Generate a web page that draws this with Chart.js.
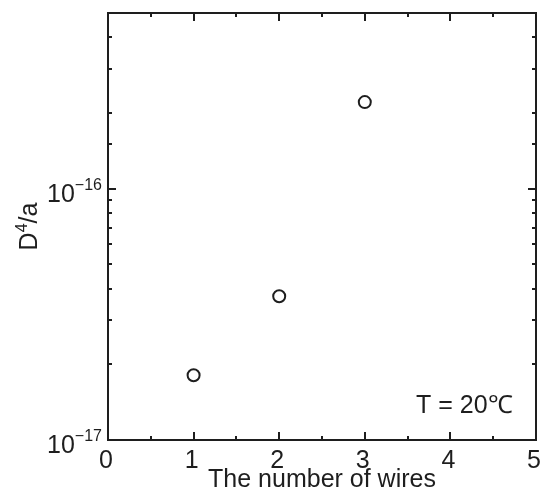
<!DOCTYPE html>
<html>
<head>
<meta charset="utf-8">
<script src="https://cdn.jsdelivr.net/npm/chart.js@4.4.1/dist/chart.umd.min.js"></script>
<style>
  html, body { margin: 0; padding: 0; background: #ffffff; }
  canvas { display: block; }
</style>
</head>
<body>
<canvas id="chart" width="544" height="497"></canvas>
<script>
// Measured D^4/a for bundles of 1, 2 and 3 wires
const wireCounts = [1, 2, 3];
const d4OverA = [1.81e-17, 3.73e-17, 2.21e-16];

// Axis ranges and labels
const xRange = [0, 5];
const yRange = [1e-17, 5e-16];
const xTickLabels = ['0', '1', '2', '3', '4', '5'];
const yTickValues = [1e-17, 1e-16];
const yTickExponents = ['\u221217', '\u221216'];

const xTitle = 'The number of wires';
const yTitleParts = ['D', '4', '/a'];
const noteText = 'T = 20\u2103';

const INK = '#1e1e1e';
const FONT = '"Liberation Sans", Arial, Helvetica, sans-serif';

function font(size) { return size + 'px ' + FONT; }

const framePlugin = {
  id: 'frame',
  afterDraw(chart) {
    const { ctx, chartArea: a, scales: { x, y } } = chart;
    ctx.save();
    ctx.strokeStyle = INK;
    ctx.fillStyle = INK;
    ctx.lineWidth = 2;
    ctx.lineCap = 'butt';

    // inward tick marks on all four sides
    ctx.beginPath();
    x.ticks.forEach(t => {
      if (t.value <= xRange[0] || t.value >= xRange[1]) return;
      const px = Math.round(x.getPixelForValue(t.value));
      const len = Number.isInteger(t.value) ? 8 : 4;
      ctx.moveTo(px, a.bottom); ctx.lineTo(px, a.bottom - len);
      ctx.moveTo(px, a.top); ctx.lineTo(px, a.top + len);
    });
    y.ticks.forEach(t => {
      if (t.value <= yRange[0] * 1.0001 || t.value >= yRange[1] * 0.9999) return;
      const py = Math.round(y.getPixelForValue(t.value));
      const lg = Math.log10(t.value);
      const len = Math.abs(lg - Math.round(lg)) < 1e-6 ? 8 : 4;
      ctx.moveTo(a.left, py); ctx.lineTo(a.left + len, py);
      ctx.moveTo(a.right, py); ctx.lineTo(a.right - len, py);
    });
    ctx.stroke();

    // plot frame
    ctx.strokeRect(a.left, a.top, a.right - a.left, a.bottom - a.top);

    // x tick labels
    ctx.font = font(25);
    ctx.textAlign = 'center';
    ctx.textBaseline = 'alphabetic';
    xTickLabels.forEach((lbl, i) => {
      const px = x.getPixelForValue(xRange[0] + i);
      ctx.fillText(lbl, px - 2, a.bottom + 28);
    });

    // y tick labels as 10^n
    yTickValues.forEach((v, i) => {
      const py = y.getPixelForValue(v);
      const right = a.left - 6;
      ctx.font = font(16);
      ctx.textAlign = 'right';
      const expW = ctx.measureText(yTickExponents[i]).width;
      ctx.fillText(yTickExponents[i], right, py + 1);
      ctx.font = font(25);
      ctx.fillText('10', right - expW, py + 13);
    });

    // x axis title
    ctx.font = font(25);
    ctx.textAlign = 'center';
    ctx.fillText(xTitle, (a.left + a.right) / 2, a.bottom + 47);

    // y axis title, rotated
    ctx.save();
    ctx.translate(37, (a.top + a.bottom) / 2);
    ctx.rotate(-Math.PI / 2);
    ctx.textAlign = 'left';
    ctx.font = font(25);
    const wD = ctx.measureText(yTitleParts[0]).width;
    const wA = ctx.measureText(yTitleParts[2]).width;
    ctx.font = font(16);
    const w4 = ctx.measureText(yTitleParts[1]).width;
    let cx = -(wD + w4 + wA) / 2;
    ctx.font = font(25);
    ctx.fillText(yTitleParts[0], cx, 0); cx += wD;
    ctx.font = font(16);
    ctx.fillText(yTitleParts[1], cx, -10); cx += w4;
    ctx.font = font(25);
    ctx.fillText(yTitleParts[2], cx, 0);
    ctx.restore();

    // temperature note
    ctx.font = font(25);
    ctx.textAlign = 'left';
    ctx.fillText(noteText, 416, 413);

    ctx.restore();
  }
};

new Chart(document.getElementById('chart'), {
  type: 'scatter',
  data: {
    datasets: [{
      data: wireCounts.map((n, i) => ({ x: n, y: d4OverA[i] })),
      pointStyle: 'circle',
      pointRadius: 6,
      pointHoverRadius: 6,
      pointBorderWidth: 2,
      pointBorderColor: INK,
      pointBackgroundColor: 'rgba(0,0,0,0)'
    }]
  },
  options: {
    responsive: false,
    devicePixelRatio: 1,
    animation: false,
    events: [],
    layout: { padding: { left: 108, top: 13, right: 6, bottom: 57 } },
    plugins: { legend: { display: false }, tooltip: { enabled: false } },
    scales: {
      x: {
        type: 'linear',
        min: xRange[0], max: xRange[1],
        ticks: { display: false, stepSize: 0.5 },
        grid: { display: false, drawTicks: false },
        border: { display: false }
      },
      y: {
        type: 'logarithmic',
        min: yRange[0], max: yRange[1],
        ticks: { display: false },
        grid: { display: false, drawTicks: false },
        border: { display: false }
      }
    }
  },
  plugins: [framePlugin]
});
</script>
</body>
</html>
